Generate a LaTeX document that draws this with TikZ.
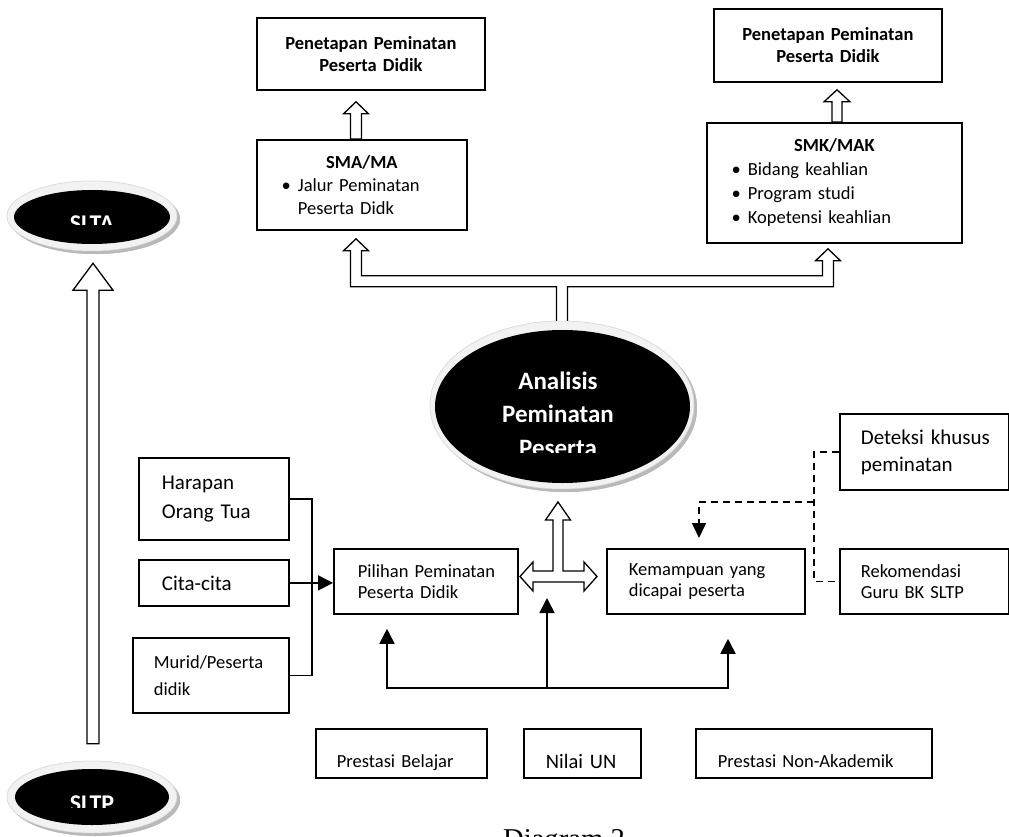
\documentclass[tikz,border=0pt]{standalone}
\usepackage{fontspec}
\setmainfont{Carlito}
\newfontfamily\captionfont{Liberation Serif}
\usetikzlibrary{calc}
\usetikzlibrary{shapes.geometric}
\usetikzlibrary{shadows}
\usetikzlibrary{arrows.meta}

\newcommand{\hollowup}[5]{%
    \draw[hollow] let \p1=(#1), \p2=(#2) in
        (\x2,\y2) -- ++(#4,#5) -- ++(#3-#4,0) -- (\x2+#3pt,\y1)
        -- (\x2-#3pt,\y1) -- (\x2-#3pt,\y2-#5pt) -- ++(#3-#4,0) -- cycle;}
\newcommand{\ind}[1]{\hspace*{#1pt}}
\newcommand{\bulletmark}{\llap{\textbullet\hspace{7pt}}}
\newcommand{\boxtitle}[1]{\makebox[\linewidth][c]{\bfseries #1}}

\tikzset{
    box/.style={draw, line width=1.8pt, inner xsep=0pt, inner ysep=0pt, anchor=north west, align=left},
    boxsize/.style 2 args={minimum width=#1pt, minimum height=#2pt, text width=#1pt},
    boldtext/.style={font=\bfseries\fontsize{18.5}{22}\selectfont},
    plaintext/.style={font=\fontsize{18.5}{21.5}\selectfont},
    largetext/.style={font=\fontsize{21}{29}\selectfont},
    line/.style={line width=1.8pt},
    arrow/.style={line width=1.8pt, -{Triangle[length=15pt, width=15pt]}},
    dashline/.style={line width=1.6pt, dash pattern=on 7pt off 5pt},
    hollow/.style={draw, fill=white, line width=1.3pt, line join=miter},
    ring/.style={ellipse, inner sep=0pt, fill=gray!10, draw=gray!30, line width=0.5pt,
        drop shadow={shadow xshift=3pt, shadow yshift=-3pt, fill=gray!55, opacity=1}},
    core/.style={ellipse, inner sep=0pt, fill=black},
    ovaltext/.style={white, font=\bfseries\fontsize{24}{24}\selectfont, anchor=base}
}

\begin{document}
\begin{tikzpicture}[x=1pt, y=-1pt]
        \useasboundingbox (0,0) rectangle (1009,837);
        \clip (0,0) rectangle (1009,837);
        \fill[white] (0,0) rectangle (1009,837);

        \node[box, boxsize={228}{72}, boldtext, align=center] (pen left) at (256,17) {Penetapan Peminatan\\Peserta Didik};
        \node[box, boxsize={228}{73}, boldtext, align=center] (pen right) at (713,8) {Penetapan Peminatan\\Peserta Didik};
        \node[box, boxsize={210}{90}, font=\fontsize{18.5}{23}\selectfont] (sma) at (256,139)
            {\boxtitle{SMA/MA}\\
             \ind{41}\bulletmark Jalur Peminatan\\\ind{41}Peserta Didk};
        \node[box, boxsize={255}{120}, font=\fontsize{18.5}{24}\selectfont] (smk) at (706,122)
            {\boxtitle{SMK/MAK}\\
             \ind{41}\bulletmark Bidang keahlian\\
             \ind{41}\bulletmark Program studi\\
             \ind{41}\bulletmark Kopetensi keahlian};

        \node[box, boxsize={150}{82}, largetext] (harapan) at (138,457) {\ind{23}Harapan\\\ind{23}Orang Tua};
        \node[box, boxsize={150}{46}, largetext] (cita) at (138,559) {\ind{23}Cita-cita};
        \node[box, boxsize={156}{75}, font=\fontsize{18.5}{27}\selectfont] (murid) at (132,637) {\ind{21}Murid/Peserta\\\ind{21}didik};
        \node[box, boxsize={184}{65}, plaintext] (pilihan) at (333,548) {\ind{24}Pilihan Peminatan\\\ind{24}Peserta Didik};
        \node[box, boxsize={198}{65}, plaintext] (kemampuan) at (606,548) {\ind{22}Kemampuan yang\\\ind{22}dicapai peserta};
        \node[box, boxsize={169}{76}, font=\fontsize{21}{27}\selectfont] (deteksi) at (839,413) {\ind{21}Deteksi khusus\\\ind{21}peminatan};
        \node[box, boxsize={169}{65}, plaintext] (rekomendasi) at (839,548) {\ind{21}Rekomendasi\\\ind{21}Guru BK SLTP};

        \node[box, boxsize={171}{49}, plaintext, text height=29pt, text depth=0pt] (belajar) at (315,728) {\ind{21}Prestasi Belajar};
        \node[box, boxsize={117}{49}, font=\fontsize{20.5}{22}\selectfont, text height=30pt, text depth=0pt] (nilai) at (523,728) {\ind{22}Nilai UN};
        \node[box, boxsize={236}{49}, plaintext, text height=29pt, text depth=0pt] (nonakademik) at (695,728) {\ind{22}Prestasi Non-Akademik};

        \coordinate (left col) at (356,0);
        \coordinate (right col) at (828,0);
        \coordinate (right top col) at (837,0);
        \coordinate (bracket) at (312,0);
        \coordinate (cross) at (558.5,576.5);
        \coordinate (fork left) at (387,688);
        \coordinate (fork mid) at (547,688);
        \coordinate (fork right) at (728,688);
        \coordinate (dash col) at (814,0);
        \coordinate (dash turn) at (814,502);
        \coordinate (dash drop) at (699,0);

        \node[ring, minimum width=170pt, minimum height=70pt] (slta) at (92,216) {};
        \node[ring, minimum width=170pt, minimum height=72pt] (sltp) at (92,797) {};
        \node[ring, minimum width=264pt, minimum height=168pt] (analisis) at (562,405) {};

        \hollowup{sma.north -| left col}{$(pen left.south -| left col)+(0,11)$}{5.5}{12.5}{12}
        \hollowup{smk.north -| right top col}{$(pen right.south -| right top col)+(0,7)$}{5}{13}{12}
        \hollowup{$(sltp.north)+(1,-17)$}{$(slta.south)+(1,12)$}{6}{20}{27}

        \draw[hollow] ($(sma.south -| left col)+(0,8)$) -- ++(12.5,12) -- ++(-7,0)
            |- ($(smk.south -| right col)+(-5.5,32)$) -- ++(0,-15) -- ++(-7,0) -- ++(12.5,-12)
            -- ++(12.5,12) -- ++(-7,0) -- ++(0,26) -| ($(analisis.north)+(5.5,10)$)
            -- ++(-11,0) |- ($(sma.south -| left col)+(-5.5,56)$) -- ++(0,-36) -- ++(-7,0) -- cycle;
        \draw[hollow] ($(cross)+(-38.5,0)$) -- ++(13,-14.5) -- ++(0,9) -- ++(20,0) -- ++(0,-51)
            -- ++(-7.5,0) -- ++(12.5,-18) -- ++(12.5,18) -- ++(-7.5,0) -- ++(0,51) -- ++(21,0)
            -- ++(0,-9) -- ++(13,14.5) -- ++(-13,14.5) -- ++(0,-9) -- ++(-51,0) -- ++(0,9) -- cycle;

        \node[ring, minimum width=170pt, minimum height=70pt] (slta) at (92,216) {};
        \node[core, minimum width=156pt, minimum height=54pt] (slta core) at (92,217) {};
        \node[ring, minimum width=170pt, minimum height=72pt] (sltp) at (92,797) {};
        \node[core, minimum width=154pt, minimum height=56pt] (sltp core) at (92,797) {};
        \node[ring, minimum width=264pt, minimum height=168pt] (analisis) at (562,405) {};
        \node[core, minimum width=255pt, minimum height=153pt] (analisis core) at (562.5,406.5) {};

        \coordinate (slta cut) at (0,225);
        \coordinate (sltp cut) at (0,807);
        \coordinate (analisis cut) at (0,452);
        \begin{scope}
            \clip (slta.west |- slta.north) rectangle (slta.east |- slta cut);
            \node[ovaltext] (slta text) at (92,231) {SLTA};
        \end{scope}
        \begin{scope}
            \clip (sltp.west |- sltp.north) rectangle (sltp.east |- sltp cut);
            \node[ovaltext] (sltp text) at (92,811) {SLTP};
        \end{scope}
        \begin{scope}
            \clip (analisis.west |- analisis.north) rectangle (analisis.east |- analisis cut);
            \node[ovaltext, anchor=center, font=\bfseries\fontsize{25}{33.5}\selectfont, align=center] (analisis text) at (558,414) {Analisis\\Peminatan\\Peserta};
        \end{scope}

        \draw[line] (harapan.east) -- (harapan.east -| bracket) -- (murid.east -| bracket) -- (murid.east);
        \draw[arrow] (cita.east) -- (cita.east -| pilihan.west);

        \draw[arrow] (fork mid) -| ($(pilihan.south -| fork left)+(0,14)$);
        \draw[arrow] (fork mid) -| ($(kemampuan.south -| fork right)+(0,24)$);
        \draw[arrow] (fork mid) -- ($(cross)+(-11.5,21.5)$);

        \draw[dashline] (deteksi.west) -| (dash col |- rekomendasi.west) -- (rekomendasi.west);
        \draw[dashline, -{Triangle[length=15pt, width=14pt]}] (dash turn) -| ($(kemampuan.north -| dash drop)+(0,-10)$);

        \node[anchor=base, font=\captionfont\fontsize{28.7}{30}\selectfont] (caption) at (564,848) {Diagram 2};
\end{tikzpicture}
\end{document}
